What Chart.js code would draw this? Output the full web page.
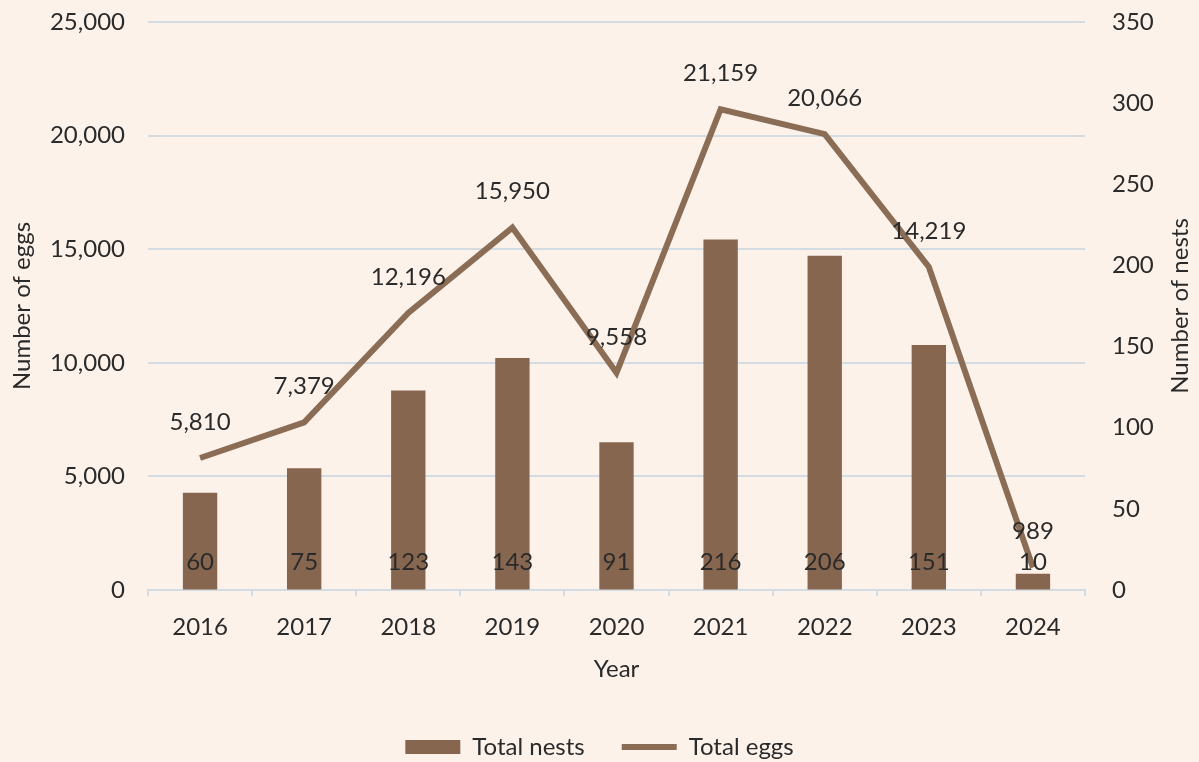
<!DOCTYPE html>
<html>
<head>
<meta charset="utf-8">
<script src="https://cdn.jsdelivr.net/npm/chart.js@4.4.1/dist/chart.umd.min.js"></script>
<style>
  html, body { margin: 0; padding: 0; background: #fcf2ea; }
  #wrap { width: 1199px; height: 762px; }
</style>
</head>
<body>
<div id="wrap"><canvas id="nestChart"></canvas></div>
<script>
const years = ["2016", "2017", "2018", "2019", "2020", "2021", "2022", "2023", "2024"];
const nests = [60, 75, 123, 143, 91, 216, 206, 151, 10];
const eggs = [5810, 7379, 12196, 15950, 9558, 21159, 20066, 14219, 989];

const brown = "#876650";
const lineBrown = "#8b6d56";
const textColor = "#2a2a2a";
const gridColor = "#d3dbe3";
const font = { family: "Lato", size: 24 };

const fmt = v => v.toLocaleString("en-US");

// value labels + right axis title (rotated the same way as the left one)
const valueLabels = {
  id: "valueLabels",
  afterDatasetsDraw(chart) {
    const ctx = chart.ctx;
    const area = chart.chartArea;
    ctx.save();
    ctx.font = "24px Lato";
    ctx.fillStyle = textColor;
    ctx.textAlign = "center";
    ctx.textBaseline = "middle";
    chart.getDatasetMeta(0).data.forEach((bar, i) => {
      ctx.fillText(String(nests[i]), bar.x, area.bottom - 28);
    });
    chart.getDatasetMeta(1).data.forEach((pt, i) => {
      ctx.fillText(fmt(eggs[i]), pt.x, pt.y - 36);
    });
    ctx.translate(chart.scales.y1.right - 19, (area.top + area.bottom) / 2);
    ctx.rotate(-Math.PI / 2);
    ctx.fillText("Number of nests", 0, 0);
    ctx.restore();
  }
};

new Chart(document.getElementById("nestChart"), {
  type: "bar",
  data: {
    labels: years,
    datasets: [{
      label: "Total nests",
      data: nests,
      backgroundColor: brown,
      yAxisID: "y1",
      order: 1,
      pointStyle: "rect",
      barPercentage: 0.33,
      categoryPercentage: 1
    }, {
      type: "line",
      label: "Total eggs",
      data: eggs,
      borderColor: lineBrown,
      backgroundColor: lineBrown,
      borderWidth: 6,
      pointRadius: 0,
      pointStyle: "line",
      yAxisID: "y",
      order: 0
    }]
  },
  options: {
    responsive: true,
    maintainAspectRatio: false,
    animation: false,
    layout: { padding: { top: 22, left: 0, right: 0, bottom: -7 } },
    plugins: {
      tooltip: { enabled: false },
      legend: {
        position: "bottom",
        labels: {
          usePointStyle: true,
          pointStyleWidth: 55,
          boxHeight: 14,
          padding: 37,
          color: textColor,
          font: font,
          sort: (a, b) => a.datasetIndex - b.datasetIndex
        }
      }
    },
    scales: {
      x: {
        offset: true,
        grid: {
          offset: true,
          drawOnChartArea: false,
          drawTicks: true,
          tickLength: 6,
          color: gridColor,
          lineWidth: 2
        },
        border: { display: true, color: gridColor, width: 2 },
        ticks: { color: textColor, font: font, padding: 17 },
        title: { display: true, text: "Year", color: textColor, font: font, padding: { top: 0, bottom: 14 } },
        afterFit: s => { s.height = 108; }
      },
      y: {
        position: "left",
        min: 0,
        max: 25000,
        ticks: { stepSize: 5000, color: textColor, font: font, padding: 0, callback: v => fmt(v) },
        grid: { color: gridColor, lineWidth: 2, drawTicks: true, tickLength: 23, tickColor: "rgba(0,0,0,0)" },
        border: { display: false },
        title: { display: true, text: "Number of eggs", color: textColor, font: font, padding: { top: 8, bottom: 0 } },
        afterFit: s => { s.width = 148; }
      },
      y1: {
        position: "right",
        min: 0,
        max: 350,
        ticks: { stepSize: 50, color: textColor, font: font, padding: 0 },
        grid: { drawOnChartArea: false, drawTicks: true, tickLength: 27, tickColor: "rgba(0,0,0,0)" },
        border: { display: false },
        afterFit: s => { s.width = 114; }
      }
    }
  },
  plugins: [valueLabels]
});
</script>
</body>
</html>
